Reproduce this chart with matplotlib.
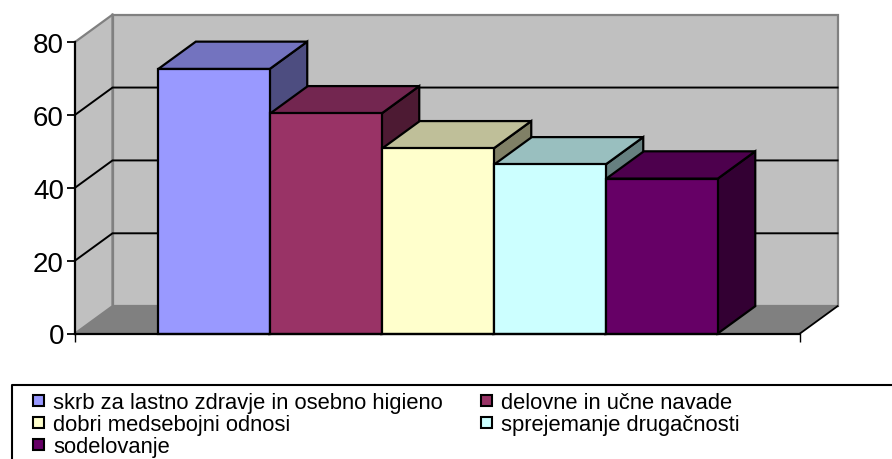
import matplotlib
matplotlib.use("Agg")
import matplotlib.pyplot as plt
from matplotlib.patches import Polygon, Rectangle

plt.rcParams['font.family'] = ['Liberation Sans', 'DejaVu Sans']

labels = ["skrb za lastno zdravje in osebno higieno", "delovne in učne navade",
          "dobri medsebojni odnosi", "sprejemanje drugačnosti", "sodelovanje"]
values = [72.6, 60.4, 50.8, 46.4, 42.5]
front = ["#9999FF", "#993366", "#FFFFCC", "#CCFFFF", "#660066"]
top = ["#7373BF", "#732650", "#BFBF99", "#99BFBF", "#4D004D"]
side = ["#4D4D80", "#4D1A33", "#808066", "#668080", "#330033"]
yticks = [0, 20, 40, 60, 80]

W, H = 892, 460
# depth of the fake 3d box, in data units
dx = 0.335
dy = 7.5
bar_w = 0.995
x0, x1 = -1.241, 5.232

fig = plt.figure(figsize=(W / 100, H / 100), dpi=100)
ax = fig.add_axes([75 / W, 1 - 334.5 / H, 725 / W, 291.5 / H])
ax.set_xlim(x0, x1)
ax.set_ylim(0, 80)
ax.patch.set_visible(False)


def poly(pts, fc, ec, lw=1.6, z=1):
    ax.add_patch(Polygon(pts, closed=True, fc=fc, ec=ec, lw=lw, clip_on=False,
                         zorder=z, joinstyle="miter"))


# walls and floor
poly([(x0, 0), (x0 + dx, dy), (x0 + dx, 80 + dy), (x0, 80)], "#C0C0C0", "none", 0)
poly([(x0 + dx, dy), (x1 + dx, dy), (x1 + dx, 80 + dy), (x0 + dx, 80 + dy)], "#C0C0C0", "#808080", 1.6)
poly([(x0, 0), (x0 + dx, dy), (x1 + dx, dy), (x1, 0)], "#808080", "none", 0)
ax.plot([x0, x0 + dx, x0 + dx], [0, dy, 80 + dy], color="#808080", lw=1.6, clip_on=False, zorder=1.1)
ax.plot([x0, x0 + dx], [80, 80 + dy], color="#808080", lw=1.6, clip_on=False, zorder=1.1)
ax.plot([x1, x1 + dx], [0, dy], color="black", lw=1.3, clip_on=False, zorder=1.2)

# gridlines
for v in yticks[1:-1]:
    ax.plot([x0, x0 + dx, x1 + dx], [v, v + dy, v + dy], color="black", lw=1.4,
            clip_on=False, zorder=1.2, solid_joinstyle="miter")

# bars
for i, v in enumerate(values):
    l = i - bar_w / 2
    r = i + bar_w / 2
    z = 2 + i
    poly([(r, 0), (r + dx, dy), (r + dx, v + dy), (r, v)], side[i], "black", z=z)
    poly([(l, v), (l + dx, v + dy), (r + dx, v + dy), (r, v)], top[i], "black", z=z)
    poly([(l, 0), (r, 0), (r, v), (l, v)], front[i], "black", z=z + 0.5)

for s in ["top", "right"]:
    ax.spines[s].set_visible(False)
for s in ["left", "bottom"]:
    ax.spines[s].set_linewidth(1.6)
    ax.spines[s].set_zorder(10)
ax.set_yticks(yticks)
ax.set_xticks([x0, x1])
ax.set_xticklabels([])
ax.tick_params(axis="y", direction="out", length=5.5, width=1.3, labelsize=20, pad=2.5, colors="black")
ax.tick_params(axis="x", direction="out", length=5.5, width=1.0)


# legend box, runs off the bottom and right of the picture
def fx(x):
    return x / W


def fy(y):
    return 1 - y / H


fig.add_artist(plt.Line2D([fx(892), fx(11.5), fx(11.5)], [fy(385.5), fy(385.5), fy(460)], color="black", lw=1.5))
col_x = [33, 481]
row_y = [401, 423, 445.5]
for i, name in enumerate(labels):
    sx = col_x[i % 2]
    sy = row_y[i // 2]
    fig.add_artist(Rectangle((fx(sx), fy(sy + 5.5)), 11 / W, 11 / H, transform=fig.transFigure,
                             fc=front[i], ec="black", lw=1.5))
    fig.text(fx(sx + 20), fy(sy + 8), name, fontsize=15.8, va="baseline", ha="left", color="black")

fig.savefig("out.png", dpi=100)
